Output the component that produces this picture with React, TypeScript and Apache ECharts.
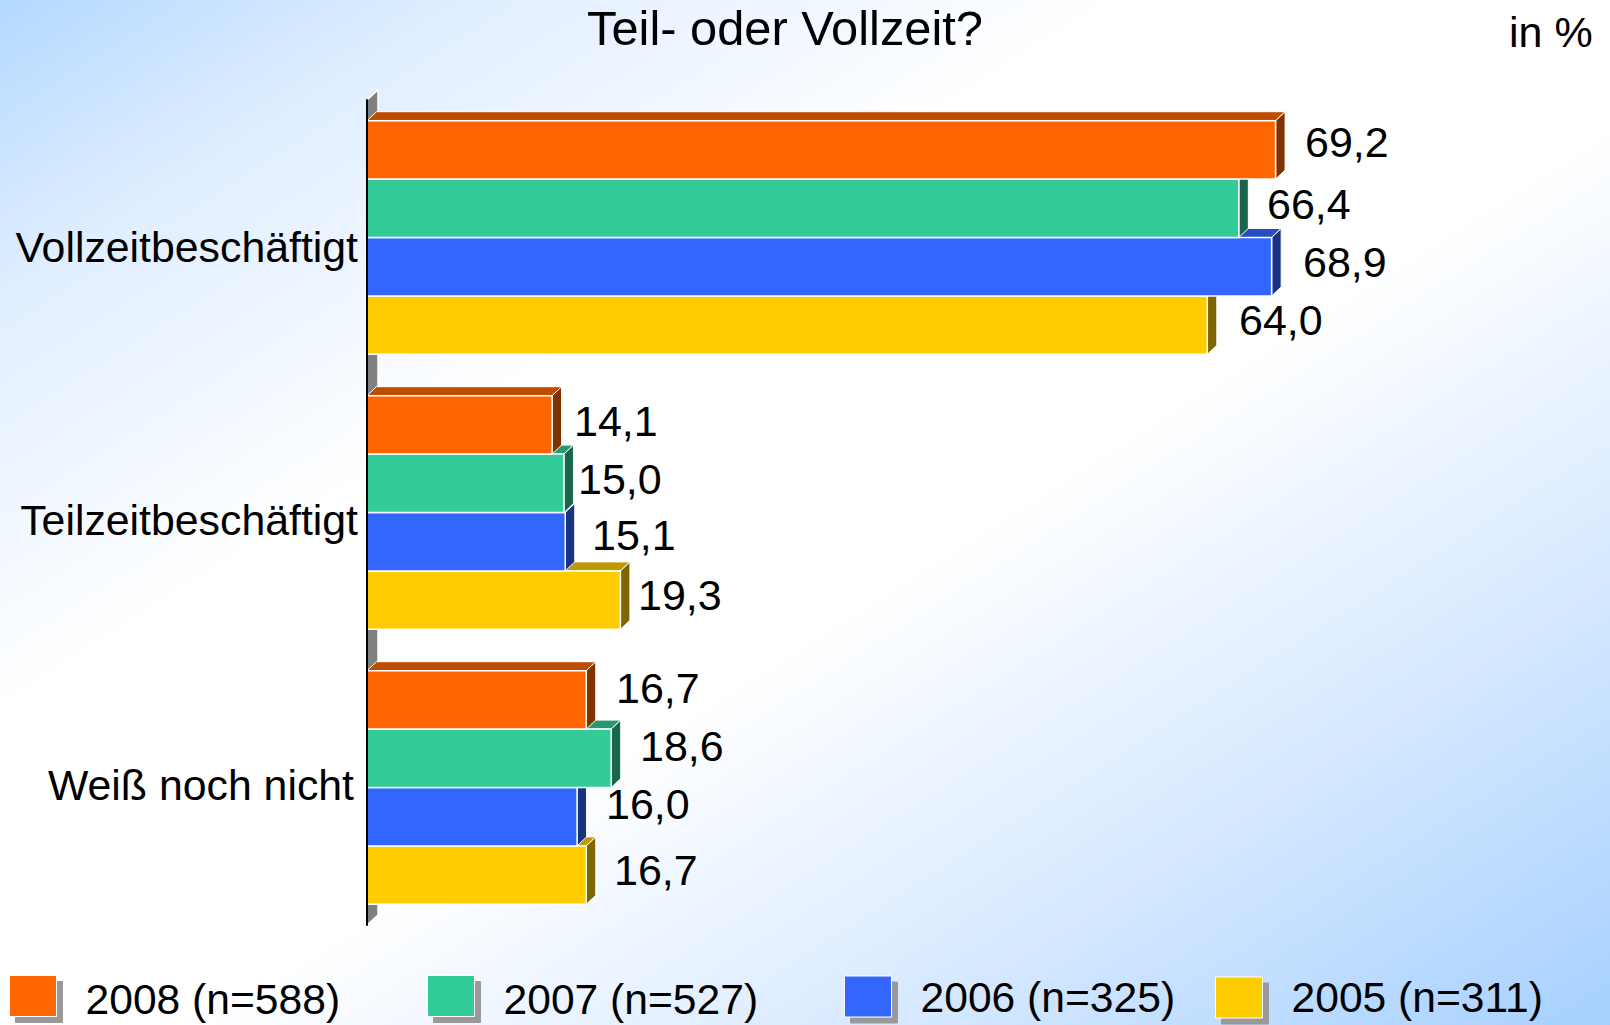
import React, { useEffect, useRef } from "react";
import * as echarts from "echarts";

const categories = ["Vollzeitbeschäftigt", "Teilzeitbeschäftigt", "Weiß noch nicht"];
const seriesNames = ["2008 (n=588)", "2007 (n=527)", "2006 (n=325)", "2005 (n=311)"];
const values2008 = [69.2, 14.1, 16.7];
const values2007 = [66.4, 15.0, 18.6];
const values2006 = [68.9, 15.1, 16.0];
const values2005 = [64.0, 19.3, 16.7];
const seriesValues = [values2008, values2007, values2006, values2005];

const FRONT = ["#FF6600", "#33CC99", "#3366FF", "#FFCC00"];
const TOP = ["#BF4D00", "#269973", "#264DBF", "#BF9900"];
const SIDE = ["#803300", "#1A664D", "#1A3380", "#806600"];
const ROW = 58.4;
const DX = 9.5;
const DY = 9;
const FONT = "'Liberation Sans', Arial, sans-serif";

// left edge / vertical centre of each hand-placed value label in the reference
const LABEL_X = [
  [1305, 574, 616],
  [1267, 578, 640],
  [1303, 592, 606],
  [1239, 638, 614],
];
const LABEL_Y = [
  [142, 421, 688],
  [204, 479, 746],
  [262, 535, 804],
  [320, 595, 870],
];
const LEGEND_X = [9, 427, 844, 1215];
const LEGEND_PAD = [
  [6, 0, 0, 24],
  [6, 0, 0, 24],
  [0, 0, 0, 24],
  [0, 0, 2, 24],
];
const CATEGORY_PAD = [
  [18, 0, 0, 0],
  [14, 0, 0, 0],
  [0, 4, 6, 0],
];

const fmt = (v: number) => v.toFixed(1).replace(".", ",");

function barSeries(si: number) {
  return {
    type: "custom",
    name: seriesNames[si],
    z: 10 - si,
    clip: false,
    itemStyle: { color: FRONT[si] },
    data: seriesValues[si].map((v, ci) => [v, ci]),
    encode: { x: 0, y: 1 },
    renderItem: (_p: any, api: any) => {
      const value = api.value(0);
      const ci = api.value(1);
      const [xEnd, yC] = api.coord([value, ci]);
      const [x0] = api.coord([0, ci]);
      const yT = yC + (si - 2) * ROW;
      const yB = yT + ROW;
      const edge = { stroke: "#fff", lineWidth: 1.5 };
      return {
        type: "group",
        children: [
          {
            type: "polygon",
            shape: { points: [[x0, yT], [x0 + DX, yT - DY], [xEnd + DX, yT - DY], [xEnd, yT]] },
            style: { fill: TOP[si], ...edge, lineWidth: 1 },
          },
          {
            type: "polygon",
            shape: { points: [[xEnd, yT], [xEnd + DX, yT - DY], [xEnd + DX, yB - DY], [xEnd, yB]] },
            style: { fill: SIDE[si], ...edge, lineWidth: 1 },
          },
          {
            type: "rect",
            shape: { x: x0, y: yT, width: xEnd - x0, height: ROW },
            style: { fill: FRONT[si], ...edge },
          },
        ],
      };
    },
  };
}

function labelSeries(si: number) {
  return {
    type: "custom",
    name: seriesNames[si],
    z: 20,
    clip: false,
    silent: true,
    data: seriesValues[si].map((v, ci) => [v, ci]),
    encode: { x: 0, y: 1 },
    renderItem: (_p: any, api: any) => {
      const ci = api.value(1);
      return {
        type: "text",
        x: LABEL_X[si][ci],
        y: LABEL_Y[si][ci],
        style: {
          text: fmt(api.value(0)),
          fill: "#000",
          font: `43px ${FONT}`,
          textAlign: "left",
          textVerticalAlign: "middle",
        },
      };
    },
  };
}

const wallSeries = {
  type: "custom",
  name: "wall",
  z: 1,
  clip: false,
  silent: true,
  data: [[0, 0]],
  encode: { x: 0, y: 1 },
  renderItem: (p: any) => {
    const { x, y, height } = p.coordSys;
    return {
      type: "polygon",
      shape: { points: [[x, y], [x + 11, y - 10], [x + 11, y + height - 10], [x, y + height]] },
      style: { fill: "#808080", stroke: "#fff", lineWidth: 1.5 },
    };
  },
};

const categoryRich: Record<string, any> = {};
CATEGORY_PAD.forEach((padding, i) => {
  categoryRich["c" + i] = { fontFamily: FONT, fontSize: 42.8, color: "#000", padding };
});

export default function App() {
  const ref = useRef<HTMLDivElement>(null);
  useEffect(() => {
    document.body.style.margin = "0";
    const chart = echarts.init(ref.current!, undefined, { renderer: "svg" });
    chart.setOption({
      animation: false,
      backgroundColor: {
        type: "linear",
        x: 0,
        y: 0,
        x2: 1,
        y2: 1,
        colorStops: [
          { offset: 0, color: "#B3D9FF" },
          { offset: 0.145, color: "#E0EEFF" },
          { offset: 0.35, color: "#FFFFFF" },
          { offset: 0.56, color: "#FFFFFF" },
          { offset: 0.73, color: "#E0EEFF" },
          { offset: 1, color: "#A6D0FF" },
        ],
      },
      title: [
        {
          text: "Teil- oder Vollzeit?",
          left: 587,
          top: 3,
          padding: 0,
          textStyle: { fontFamily: FONT, fontSize: 48.8, fontWeight: "normal", color: "#000" },
        },
        {
          text: "in %",
          left: 1509,
          top: 10,
          padding: 0,
          textStyle: { fontFamily: FONT, fontSize: 43, fontWeight: "normal", color: "#000" },
        },
      ],
      grid: { left: 367, top: 100, width: 1050.4, height: 825 },
      xAxis: { type: "value", min: 0, max: 80, show: false },
      yAxis: {
        type: "category",
        inverse: true,
        z: 30,
        data: categories,
        axisLine: { show: true, lineStyle: { color: "#000", width: 2 } },
        axisTick: { show: false },
        axisLabel: {
          margin: 9,
          fontFamily: FONT,
          fontSize: 42.8,
          color: "#000",
          formatter: (v: string) => `{c${categories.indexOf(v)}|${v}}`,
          rich: categoryRich,
        },
      },
      legend: seriesNames.map((name, i) => ({
        data: [name],
        left: LEGEND_X[i],
        top: 975,
        padding: 0,
        itemWidth: 47,
        itemHeight: 41,
        icon: "rect",
        selectedMode: false,
        itemStyle: {
          color: FRONT[i],
          borderColor: "#fff",
          borderWidth: 1,
          shadowColor: "#999999",
          shadowBlur: 0,
          shadowOffsetX: 6,
          shadowOffsetY: 6,
        },
        formatter: (n: string) => `{t|${n}}`,
        textStyle: {
          fontFamily: FONT,
          fontSize: 42.6,
          color: "#000",
          rich: { t: { fontFamily: FONT, fontSize: 42.6, color: "#000", padding: LEGEND_PAD[i] } },
        },
      })),
      series: [wallSeries, ...[0, 1, 2, 3].map(barSeries), ...[0, 1, 2, 3].map(labelSeries)],
    });
    return () => chart.dispose();
  }, []);
  return <div ref={ref} style={{ width: 1610, height: 1025 }} />;
}
